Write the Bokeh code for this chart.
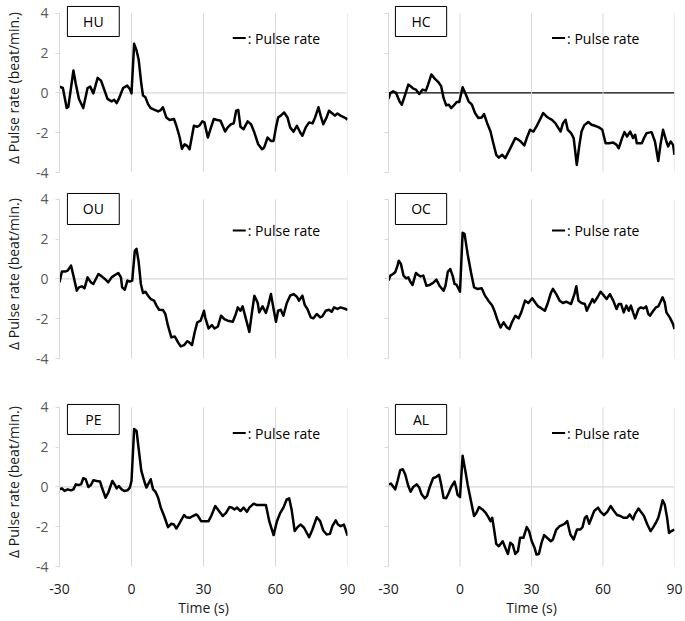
from bokeh.plotting import figure
from bokeh.layouts import column, row
from bokeh.models import (Range1d, FixedTicker, Span, BoxAnnotation, Label)
from bokeh.embed import file_html
from bokeh.resources import INLINE

FONT = "Open Sans"

# ---------------- data (time in s, delta pulse rate in beat/min) -------------
hu_t = [-30, -28.6, -27.0, -26.3, -24.2, -23.2, -21.9, -20.1, -18.3, -17.2, -15.9, -14.1, -12.7,
        -11.6, -10.0, -8.3, -7.2, -6.2, -5.3, -3.5, -1.8, -0.7, 0.0, 1.1, 2.1, 3.0, 4.1, 4.8, 5.8,
        6.9, 8.0, 9.4, 11.1, 12.2, 13.1, 14.5, 15.9, 17.7, 18.7, 20.1, 21.0, 22.1, 23.2, 24.2,
        26.0, 27.4, 28.4, 29.5, 30.4, 31.8, 32.9, 34.3, 35.7, 37.1, 39.0, 40.1, 41.5, 42.6, 43.6,
        44.5, 45.4, 46.7, 48.4, 49.8, 51.2, 52.8, 54.4, 55.3, 56.7, 58.1, 59.2, 60.2, 61.1, 62.2,
        63.6, 65.0, 66.1, 67.5, 68.9, 70.3, 71.2, 72.6, 74.0, 75.4, 76.5, 77.9, 78.8, 79.9, 81.3,
        82.3, 83.7, 84.8, 85.8, 87.1, 89.2, 90]
hu_v = [0.32, 0.25, -0.76, -0.69, 1.13, 0.45, -0.30, -0.76, 0.25, 0.32, -0.02, 0.76, 0.62,
        0.25, -0.30, -0.42, -0.34, -0.51, -0.30, 0.25, 0.37, 0.20, -0.02, 2.47, 2.14, 1.67, 0.45,
        -0.13, -0.22, -0.56, -0.76, -0.84, -0.93, -0.86, -0.72, -1.23, -1.36, -1.31, -1.65, -2.24,
        -2.81, -2.58, -2.66, -2.83, -1.65, -1.70, -1.62, -1.43, -1.48, -2.24, -1.82, -1.31, -1.36,
        -1.40, -1.94, -1.73, -1.57, -1.53, -0.89, -0.86, -1.70, -1.82, -1.43, -1.57, -1.99, -2.58,
        -2.83, -2.74, -2.24, -2.41, -2.41, -1.73, -1.23, -1.14, -0.98, -1.23, -1.73, -1.95, -1.65,
        -1.99, -2.15, -1.73, -1.48, -1.53, -1.23, -0.72, -1.14, -1.57, -1.23, -0.89, -1.03, -1.14,
        -1.03, -1.14, -1.26, -1.35]

hc_t = [-30, -29.2, -28.1, -26.8, -25.4, -24.4, -23.0, -21.7, -20.7, -19.6, -18.5, -17.1, -15.7,
        -14.3, -13.4, -12.0, -10.6, -9.2, -7.9, -6.9, -5.8, -4.7, -3.7, -2.3, -1.4, -0.3, 1.1, 2.2,
        3.6, 5.0, 6.3, 7.7, 9.1, 10.1, 11.4, 12.8, 13.8, 15.2, 16.3, 17.7, 19.0, 20.4, 21.8, 23.2,
        24.6, 25.7, 27.0, 28.0, 29.4, 30.8, 32.1, 33.5, 34.9, 36.3, 37.2, 38.6, 40.0, 41.1, 42.2,
        43.2, 44.3, 45.2, 46.6, 47.7, 49.0, 50.1, 51.0, 52.1, 53.8, 55.2, 56.6, 58.3, 59.7, 61.1,
        62.5, 64.3, 65.7, 66.6, 68.0, 69.0, 70.1, 71.4, 72.6, 73.5, 74.2, 76.3, 77.2, 78.3, 80.4,
        81.8, 83.2, 84.1, 85.2, 86.6, 87.3, 88.4, 89.4, 90.0]
hc_v = [-0.29, 0.00, 0.08, 0.00, -0.42, -0.59, -0.08, 0.42, 0.34, 0.22, 0.17, -0.05, 0.17, 0.12,
        0.42, 0.93, 0.72, 0.56, 0.34, -0.25, -0.62, -0.59, -0.76, -0.59, -0.45, -0.45, 0.29, 0.00,
        -0.42, -0.59, -1.01, -1.26, -1.23, -1.06, -1.52, -1.94, -2.44, -3.11, -3.25, -3.11, -3.28,
        -2.95, -2.61, -2.27, -2.36, -2.47, -2.64, -2.27, -1.85, -1.94, -1.68, -1.35, -1.01, -1.18,
        -1.26, -1.35, -1.52, -1.73, -1.94, -1.52, -1.35, -1.85, -2.02, -2.27, -3.62, -2.61, -1.94,
        -1.63, -1.46, -1.60, -1.65, -1.73, -1.85, -2.53, -2.53, -2.49, -2.61, -2.78, -2.27, -1.97,
        -2.19, -1.94, -2.27, -2.10, -2.53, -2.53, -2.27, -2.02, -1.97, -2.44, -3.42, -2.61, -1.85,
        -2.44, -2.69, -2.44, -2.61, -3.11]

ou_t = [-30, -29.0, -27.7, -26.6, -25.2, -24.2, -22.8, -21.9, -20.7, -19.6, -18.3, -16.9, -15.9,
        -13.8, -12.4, -11.1, -9.7, -8.3, -6.9, -5.5, -4.4, -3.9, -2.8, -1.7, -0.7, 0.3, 1.4, 2.1,
        3.0, 3.9, 4.8, 5.8, 6.9, 8.0, 9.4, 10.4, 11.5, 13.1, 14.1, 15.2, 16.6, 18.0, 19.4, 20.5,
        21.9, 23.2, 23.8, 25.2, 26.3, 27.4, 28.8, 30.2, 30.7, 32.1, 33.5, 34.6, 36.0, 37.3, 38.7,
        40.1, 42.2, 43.2, 44.3, 45.4, 46.3, 47.7, 49.1, 50.1, 51.2, 52.6, 53.2, 54.6, 56.0, 57.0,
        58.1, 59.2, 60.2, 61.1, 62.2, 63.3, 64.7, 66.1, 67.5, 68.9, 69.8, 71.2, 72.2, 73.3, 74.7,
        75.8, 77.2, 78.6, 79.5, 80.9, 82.3, 83.4, 84.4, 85.8, 87.1, 89.2, 90]
ou_v = [-0.17, 0.37, 0.37, 0.42, 0.67, 0.17, -0.59, -0.42, -0.37, -0.47, 0.08, -0.17, -0.25,
        0.25, 0.13, 0.00, -0.17, 0.08, 0.20, 0.30, 0.08, -0.42, -0.54, -0.08, -0.13, -0.08, 1.43,
        1.51, 0.84, -0.25, -0.71, -0.64, -0.84, -1.01, -1.09, -1.34, -1.55, -1.56, -1.76, -2.35,
        -2.94, -2.89, -3.19, -3.39, -3.33, -3.13, -3.16, -3.33, -2.69, -2.18, -2.10, -1.60, -1.93,
        -2.49, -2.32, -2.49, -2.39, -1.85, -2.02, -2.10, -2.15, -1.85, -1.43, -1.60, -1.38, -2.02,
        -2.66, -1.76, -0.84, -1.21, -1.68, -1.38, -1.71, -1.31, -0.76, -1.51, -2.15, -1.60, -1.55,
        -1.85, -1.21, -0.84, -0.76, -0.89, -1.09, -0.84, -1.31, -1.51, -1.93, -1.98, -1.76, -1.93,
        -1.88, -1.60, -1.55, -1.65, -1.43, -1.51, -1.43, -1.51, -1.55]

oc_t = [-30, -29.2, -28.1, -27.2, -26.2, -25.7, -24.8, -23.7, -22.6, -21.7, -20.7, -19.9, -18.5,
        -17.5, -16.6, -15.4, -14.1, -12.7, -11.3, -9.9, -8.6, -6.9, -6.1, -5.1, -4.1, -3.0, -2.3,
        -1.4, 0.0, 1.1, 1.9, 3.2, 4.6, 5.9, 7.3, 9.1, 10.5, 11.9, 13.5, 14.6, 15.6, 17.0, 18.3,
        19.7, 20.7, 21.8, 23.2, 24.6, 25.7, 27.3, 28.7, 30.3, 31.7, 32.8, 34.2, 35.6, 36.7, 38.1,
        39.0, 40.4, 41.8, 43.2, 44.6, 46.6, 48.0, 48.8, 49.7, 51.0, 52.4, 53.2, 54.2, 55.6, 56.3,
        57.7, 59.0, 60.4, 61.5, 62.9, 64.3, 65.7, 66.6, 67.6, 68.7, 69.8, 70.8, 71.7, 72.6, 73.5,
        74.9, 75.9, 77.0, 78.1, 79.0, 79.7, 81.1, 82.2, 83.2, 85.0, 85.9, 86.6, 88.0, 89.4, 90.0]
oc_v = [-0.08, 0.17, 0.25, 0.34, 0.67, 0.92, 0.76, 0.17, 0.03, 0.08, -0.17, -0.30, 0.30, 0.20,
        0.13, 0.17, -0.34, -0.30, -0.20, -0.03, -0.34, -0.59, -0.34, 0.37, 0.50, 0.13, -0.25,
        -0.30, -0.64, 2.32, 2.27, 1.26, 0.34, -0.42, -0.50, -0.47, -0.84, -1.09, -1.34, -1.65,
        -2.02, -2.44, -2.18, -2.44, -2.52, -2.18, -1.85, -1.98, -1.68, -1.09, -1.21, -0.97, -1.21,
        -1.38, -1.48, -1.60, -1.26, -0.71, -0.50, -0.76, -1.09, -1.21, -1.14, -1.26, -0.76, -0.37,
        -1.09, -1.21, -1.26, -1.60, -1.34, -1.01, -1.18, -0.92, -0.64, -0.84, -1.01, -0.76, -1.09,
        -1.51, -1.26, -1.26, -1.68, -1.34, -1.60, -1.34, -1.68, -1.98, -1.51, -1.43, -1.48, -1.38,
        -1.76, -1.85, -1.60, -1.43, -1.38, -0.92, -1.18, -1.68, -1.93, -2.27, -2.52]

pe_t = [-30, -29.0, -27.9, -26.6, -25.2, -24.2, -23.2, -22.1, -21.0, -20.1, -19.1, -18.0, -16.9,
        -15.9, -14.5, -13.1, -12.4, -10.8, -9.7, -8.0, -6.9, -6.2, -5.3, -4.1, -3.0, -1.7, -0.7,
        0.0, 1.1, 2.1, 3.0, 4.1, 5.3, 6.2, 6.9, 8.0, 9.0, 10.0, 11.1, 12.2, 13.6, 15.2, 16.6, 17.7,
        18.7, 20.1, 21.9, 22.8, 24.2, 25.6, 27.0, 27.7, 29.0, 30.4, 32.1, 33.2, 34.9, 36.0, 38.0,
        39.4, 40.8, 41.8, 42.9, 44.0, 45.4, 46.7, 48.1, 49.1, 50.9, 52.3, 53.7, 55.0, 56.0, 57.4,
        59.2, 60.6, 62.0, 63.3, 64.7, 65.7, 66.7, 68.0, 69.2, 70.5, 71.9, 74.0, 75.4, 77.2, 78.6,
        79.9, 81.3, 82.7, 83.7, 85.1, 86.0, 87.1, 88.5, 89.2, 90]
pe_v = [-0.12, -0.07, -0.20, -0.12, -0.17, -0.12, 0.13, 0.10, 0.13, 0.44, 0.39, 0.00, 0.10,
        0.34, 0.30, 0.27, 0.00, -0.54, -0.29, 0.30, 0.10, -0.07, 0.05, -0.12, -0.20, -0.17, -0.03,
        0.30, 2.91, 2.83, 1.90, 0.81, 0.30, -0.03, 0.13, 0.39, -0.12, -0.24, -0.54, -1.04, -1.46,
        -2.02, -1.85, -1.89, -2.09, -1.80, -1.41, -1.52, -1.55, -1.46, -1.38, -1.46, -1.72, -1.72,
        -1.72, -1.46, -0.96, -1.13, -1.46, -1.30, -1.01, -1.04, -1.13, -1.04, -1.21, -1.04, -1.25,
        -1.04, -0.84, -0.91, -0.91, -0.91, -0.91, -1.72, -2.42, -1.72, -1.30, -1.04, -0.62, -0.57,
        -1.13, -2.22, -2.02, -1.89, -2.05, -2.53, -2.14, -1.52, -1.72, -2.19, -2.39, -2.36, -1.97,
        -1.68, -1.89, -1.97, -1.89, -2.14, -2.45]

al_t = [-30, -29.0, -27.9, -27.2, -26.2, -25.1, -24.0, -23.0, -21.7, -20.7, -19.6, -18.2, -17.1,
        -16.1, -14.8, -13.8, -12.7, -11.3, -9.9, -8.8, -7.9, -6.9, -5.8, -4.7, -3.7, -2.3, -1.7,
        -1.0, 0.0, 1.1, 2.2, 3.2, 4.6, 5.9, 6.9, 8.0, 9.4, 10.8, 11.9, 12.8, 13.5, 14.2, 15.2,
        16.3, 17.9, 19.0, 20.1, 21.1, 22.1, 23.2, 24.3, 25.2, 26.6, 28.0, 29.0, 30.1, 31.2, 32.1,
        33.1, 34.2, 35.3, 36.3, 38.1, 39.0, 40.4, 41.8, 42.8, 43.9, 45.0, 46.3, 47.7, 49.1, 50.5,
        51.4, 52.4, 53.2, 54.2, 55.2, 56.3, 57.9, 59.0, 60.4, 61.8, 63.2, 64.6, 65.9, 67.3, 68.7,
        70.1, 71.2, 72.6, 73.5, 74.9, 75.9, 77.2, 78.6, 80.0, 81.1, 82.2, 83.2, 84.1, 85.0, 85.9,
        86.9, 87.7, 88.7, 90.0]
al_v = [0.13, 0.17, 0.00, -0.12, 0.30, 0.84, 0.89, 0.64, 0.05, -0.24, 0.00, 0.13, -0.03, -0.37,
        -0.57, -0.45, 0.00, 0.44, 0.51, 0.61, 0.13, -0.54, -0.57, -0.29, 0.00, 0.27, 0.00, -0.40,
        -0.51, 1.57, 0.84, 0.13, -0.71, -1.46, -1.30, -1.01, -1.13, -1.30, -1.52, -1.72, -1.55,
        -2.05, -2.86, -2.98, -2.73, -3.06, -3.37, -2.81, -2.90, -3.37, -3.23, -2.56, -2.56, -2.02,
        -2.22, -2.73, -3.03, -3.40, -3.37, -2.81, -2.42, -2.53, -2.73, -2.64, -2.14, -1.97, -1.92,
        -1.85, -1.72, -2.39, -2.64, -2.14, -2.14, -2.02, -1.55, -1.46, -1.85, -1.55, -1.21, -1.04,
        -1.25, -1.41, -1.25, -0.96, -1.21, -1.41, -1.46, -1.55, -1.55, -1.38, -1.63, -1.35, -1.08,
        -1.25, -1.46, -1.89, -2.22, -2.02, -1.80, -1.55, -1.13, -0.67, -0.88, -1.55, -2.31, -2.22,
        -2.14]

panel_names = ["HU", "HC", "OU", "OC", "PE", "AL"]
panel_t = [hu_t, hc_t, ou_t, oc_t, pe_t, al_t]
panel_v = [hu_v, hc_v, ou_v, oc_v, pe_v, al_v]

x_ticks = [-30, 0, 30, 60, 90]
grid_x = [0, 30, 60, 90]
y_ticks = [-4, -2, 0, 2, 4]
y_label = "\u0394 Pulse rate (beat/min.)"
x_label = "Time (s)"
legend_text = ": Pulse rate"

# ---------------- layout / style constants ----------------
Y_TOP = 4.5
FRAME_H = 169
ROW_TOP = [3, 1, 1]
ROW_BOTTOM = [16, 38, 53]
BOX_TOP = [4.35, 4.3, 4.15]
BOX_BOTTOM = [2.84, 2.74, 2.64]
LEG_Y = [2.76, 2.44, 2.71]
GRID_COLOR = "#d9d9d9"
TEXT_COLOR = "#1a1a1a"


def make_panel(idx):
    r_i, c_i = divmod(idx, 2)
    left = c_i == 0
    bottom = r_i == 2
    bl, fw, br = (58, 289, 10) if left else (31, 286, 9)
    height = ROW_TOP[r_i] + FRAME_H + ROW_BOTTOM[r_i]
    p = figure(width=bl + fw + br, height=height,
               x_range=Range1d(x_ticks[0], x_ticks[-1]), y_range=Range1d(y_ticks[0], Y_TOP),
               output_backend="svg", toolbar_location=None,
               x_axis_location="below" if bottom else None, y_axis_location="left",
               min_border_left=bl, min_border_right=br, min_border_top=ROW_TOP[r_i],
               min_border_bottom=ROW_BOTTOM[r_i])
    p.outline_line_color = None
    p.xgrid.visible = False
    p.ygrid.visible = False
    p.background_fill_color = "white"
    p.border_fill_color = "white"

    ya = p.yaxis[0]
    ya.ticker = FixedTicker(ticks=y_ticks)
    ya.major_label_overrides = {v: str(v) for v in y_ticks}
    ya.bounds = (y_ticks[0], y_ticks[-1])
    ya.axis_line_color = GRID_COLOR
    ya.axis_line_width = 1
    ya.major_tick_line_color = GRID_COLOR
    ya.major_tick_in = 0
    ya.major_tick_out = 4
    ya.minor_tick_line_color = None
    ya.major_label_standoff = 7
    ya.major_label_text_font = FONT
    ya.major_label_text_font_size = "14px"
    ya.major_label_text_color = "#595959"
    if left:
        ya.axis_label = y_label
        ya.axis_label_text_font = FONT
        ya.axis_label_text_font_size = "14px"
        ya.axis_label_text_font_style = "normal"
        ya.axis_label_text_color = TEXT_COLOR
        ya.axis_label_standoff = 10
    else:
        ya.major_label_text_color = None

    if bottom:
        xa = p.xaxis[0]
        xa.ticker = FixedTicker(ticks=x_ticks)
        xa.major_label_overrides = {v: str(v) for v in x_ticks}
        xa.axis_line_color = None
        xa.major_tick_line_color = None
        xa.minor_tick_line_color = None
        xa.major_label_standoff = 11
        xa.major_label_text_font = FONT
        xa.major_label_text_font_size = "14px"
        xa.major_label_text_color = TEXT_COLOR
        xa.axis_label = x_label
        xa.axis_label_text_font = FONT
        xa.axis_label_text_font_size = "14px"
        xa.axis_label_text_font_style = "normal"
        xa.axis_label_text_color = TEXT_COLOR
        xa.axis_label_standoff = 1

    # vertical grid lines at the x ticks, limited to the y axis extent
    p.segment(x0=grid_x, y0=[y_ticks[0]] * len(grid_x), x1=grid_x,
              y1=[y_ticks[-1]] * len(grid_x), line_color=GRID_COLOR, line_width=1)
    # horizontal axis at 0
    zero_color = "black" if panel_names[idx] == "HC" else GRID_COLOR
    p.add_layout(Span(location=0, dimension="width", line_color=zero_color,
                      line_width=1.3, level="underlay"))

    p.line(panel_t[idx], panel_v[idx], line_color="black", line_width=2.5, line_join="round")

    # panel name box
    bx_l, bx_r = (-26.7, -5.1) if left else (-27.1, -5.6)
    p.add_layout(BoxAnnotation(left=bx_l, right=bx_r, bottom=BOX_BOTTOM[r_i], top=BOX_TOP[r_i],
                               fill_color="white", fill_alpha=1.0, line_color="black",
                               line_alpha=1.0, line_width=1))
    p.add_layout(Label(x=(bx_l + bx_r) / 2, y=(BOX_TOP[r_i] + BOX_BOTTOM[r_i]) / 2,
                       text=panel_names[idx], text_align="center", text_baseline="middle",
                       text_font=FONT, text_font_size="14px", text_color="black"))

    # key: short line sample followed by ": Pulse rate"
    k0, k1 = (42.2, 47.6) if left else (38.6, 44.1)
    ky = LEG_Y[r_i]
    p.segment(x0=[k0], y0=[ky], x1=[k1], y1=[ky], line_color="black", line_width=2)
    p.add_layout(Label(x=k1, y=ky, x_offset=2, text=legend_text, text_align="left",
                       text_baseline="middle", text_font=FONT, text_font_size="14px",
                       text_color="black"))
    return p


figs = [make_panel(i) for i in range(6)]
layout = column(row(figs[0], figs[1]), row(figs[2], figs[3]), row(figs[4], figs[5]))

open("out.html", "w").write(file_html(layout, INLINE))
